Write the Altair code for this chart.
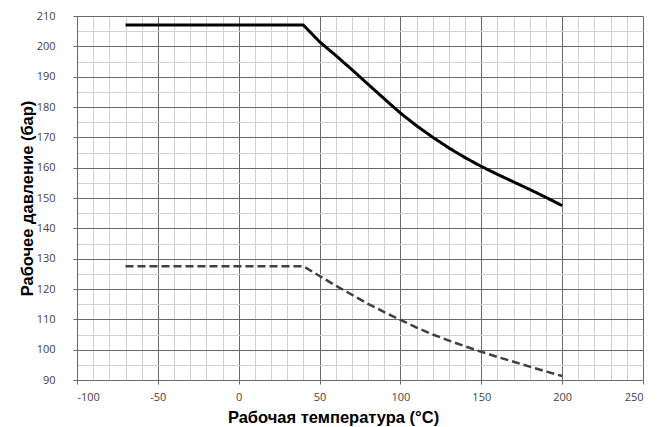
import altair as alt
import pandas as pd

temp_solid = [-70, 40, 50, 60, 70, 80, 90, 100, 110, 120, 130, 140, 150, 160, 170, 180, 190, 200]
press_solid = [207, 207, 201.5, 197, 192.3, 187.5, 182.7, 178, 173.8, 170, 166.5, 163.3, 160.4, 157.8, 155.3, 152.8, 150.2, 147.5]
temp_dash = [-70, 40, 50, 60, 70, 80, 90, 100, 110, 120, 130, 140, 150, 160, 170, 180, 190, 200]
press_dash = [127.5, 127.5, 124.3, 121.1, 118.1, 115.1, 112.4, 109.8, 107.3, 105, 103, 101.1, 99.3, 97.6, 96, 94.4, 92.8, 91.3]

x_ticks = list(range(-100, 251, 10))
y_ticks = list(range(90, 211, 5))

df = pd.concat([
    pd.DataFrame({"t": temp_solid, "p": press_solid, "s": "A"}),
    pd.DataFrame({"t": temp_dash, "p": press_dash, "s": "B"}),
])

major_c = "#6a6a6a"
minor_c = "#d2d2d2"

chart = alt.Chart(df).mark_line(strokeCap="butt", strokeJoin="miter").encode(
    x=alt.X("t:Q", scale=alt.Scale(domain=[-100, 250], nice=False, zero=False),
            axis=alt.Axis(
                values=x_ticks,
                title="Рабочая температура (°C)",
                labelExpr="datum.value % 50 === 0 ? replace(datum.label, '\u2212', '-') : ''",
                gridColor={"condition": {"test": "datum.value % 50 === 0", "value": major_c}, "value": minor_c},
                tickOpacity={"condition": {"test": "datum.value % 50 === 0", "value": 1}, "value": 0},
                tickColor=major_c, tickSize=4,
                domainColor=major_c,
                labelPadding=7, labelFont="Open Sans", labelFontSize=11, labelColor="#444444",
                titleFont="Liberation Sans", titleFontSize=16.5, titleFontWeight="bold", titleColor="#000000",
                titleX=256, titleY=42, titleBaseline="alphabetic",
            )),
    y=alt.Y("p:Q", scale=alt.Scale(domain=[90, 210], nice=False, zero=False),
            axis=alt.Axis(
                values=y_ticks,
                title="Рабочее давление (бар)",
                labelExpr="datum.value % 10 === 0 ? datum.label : ''",
                gridColor={"condition": {"test": "datum.value % 10 === 0", "value": major_c}, "value": minor_c},
                tickOpacity={"condition": {"test": "datum.value % 10 === 0", "value": 1}, "value": 0},
                tickColor=major_c, tickSize=4,
                domainColor=major_c,
                labelPadding=18, labelFont="Open Sans", labelFontSize=11, labelColor="#444444",
                titleFont="Liberation Sans", titleFontSize=16.5, titleFontWeight="bold", titleColor="#000000",
                titleX=-50, titleY=182, titleBaseline="middle", titleAngle=-90, titleAlign="center",
            )),
    color=alt.Color("s:N", scale=alt.Scale(domain=["A", "B"], range=["#000000", "#404040"]), legend=None),
    strokeDash=alt.StrokeDash("s:N", scale=alt.Scale(domain=["A", "B"], range=[[1, 0], [8, 4]]), legend=None),
    strokeWidth=alt.StrokeWidth("s:N", scale=alt.Scale(domain=["A", "B"], range=[3, 2.5]), legend=None),
).properties(
    width=566, height=364,
    autosize=alt.AutoSizeParams(type="none"),
    padding={"left": 69, "top": 8, "right": 14, "bottom": 47},
).configure_view(stroke=None).configure_axis(gridOpacity=1, gridWidth=1)

chart.save("out.html", embed_options={"renderer": "svg", "actions": False})
